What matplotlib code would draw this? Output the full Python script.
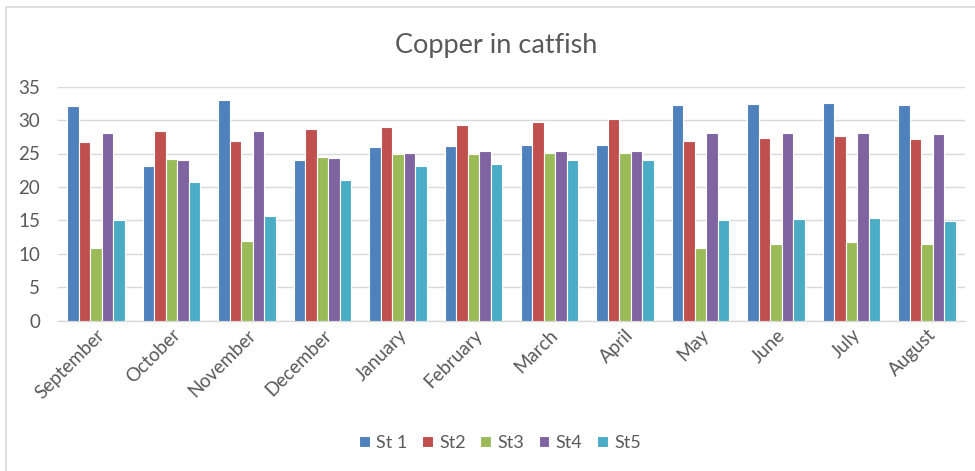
import matplotlib
matplotlib.use("Agg")
import matplotlib.pyplot as plt
import numpy as np
from matplotlib.lines import Line2D

months = ["September", "October", "November", "December", "January", "February",
          "March", "April", "May", "June", "July", "August"]
series_names = ["St 1", "St2", "St3", "St4", "St5"]
st1 = [32.1, 23.2, 33.0, 24.0, 25.9, 26.1, 26.3, 26.3, 32.3, 32.4, 32.5, 32.2]
st2 = [26.7, 28.3, 26.9, 28.7, 28.9, 29.3, 29.7, 30.1, 26.9, 27.3, 27.6, 27.1]
st3 = [10.8, 24.2, 11.9, 24.5, 24.9, 24.9, 25.1, 25.1, 10.9, 11.5, 11.7, 11.5]
st4 = [28.0, 24.0, 28.3, 24.3, 25.1, 25.3, 25.3, 25.4, 28.1, 28.1, 28.1, 27.9]
st5 = [15.0, 20.8, 15.7, 21.1, 23.1, 23.5, 24.0, 24.1, 15.1, 15.2, 15.4, 14.9]
colors = ["#4F81BD", "#C0504D", "#9BBB59", "#8064A2", "#4BACC6"]

plt.rcParams['font.family'] = ['Lato', 'DejaVu Sans']

W, H = 975, 471
fig = plt.figure(figsize=(9.75, 4.71), dpi=100)
ax = fig.add_axes([58/W, 1-320.5/H, (965-58)/W, (320.5-86.7)/H])

data = [st1, st2, st3, st4, st5]
x = np.arange(len(months))
slot = 0.76 / 5
for i, (vals, c, name) in enumerate(zip(data, colors, series_names)):
    ax.bar(x + (i - 2) * slot, vals, width=slot, color=c, edgecolor="white",
           linewidth=0.8, label=name, zorder=3)

ax.set_xlim(-0.5, len(months) - 0.5)
ax.set_ylim(0, 35)
ax.set_yticks(np.arange(0, 36, 5))
ax.yaxis.grid(True, color="#d9d9d9", linewidth=1.0, zorder=0)
ax.set_axisbelow(True)
for s in ["left", "right", "top"]:
    ax.spines[s].set_visible(False)
ax.spines["bottom"].set_color("#d9d9d9")
ax.spines["bottom"].set_linewidth(1.0)
ax.tick_params(axis="y", length=0, pad=13, labelsize=13.5, labelcolor="#595959")
ax.tick_params(axis="x", length=0, pad=4, labelsize=13.5, labelcolor="#595959")
ax.set_xticks(x)
ax.set_xticklabels(months, rotation=45, ha="right", rotation_mode="anchor")

fig.text(496/W, 1 - 45/H, "Copper in catfish", ha="center", va="center",
         fontsize=19.5, color="#595959")

leg = fig.legend(loc="center", bbox_to_anchor=(500/W, 1 - 443/H), ncol=5,
                 frameon=False, fontsize=13, handlelength=0.6, handleheight=0.6,
                 handletextpad=0.35, columnspacing=0.8)
for t in leg.get_texts():
    t.set_color("#595959")

fig.add_artist(Line2D([6/W, 6/W], [0, 1 - 7/H], transform=fig.transFigure,
                      color="#d9d9d9", linewidth=1.2))
fig.add_artist(Line2D([6/W, 1], [1 - 7/H, 1 - 7/H], transform=fig.transFigure,
                      color="#d9d9d9", linewidth=1.2))

fig.savefig("out.png", dpi=100)
